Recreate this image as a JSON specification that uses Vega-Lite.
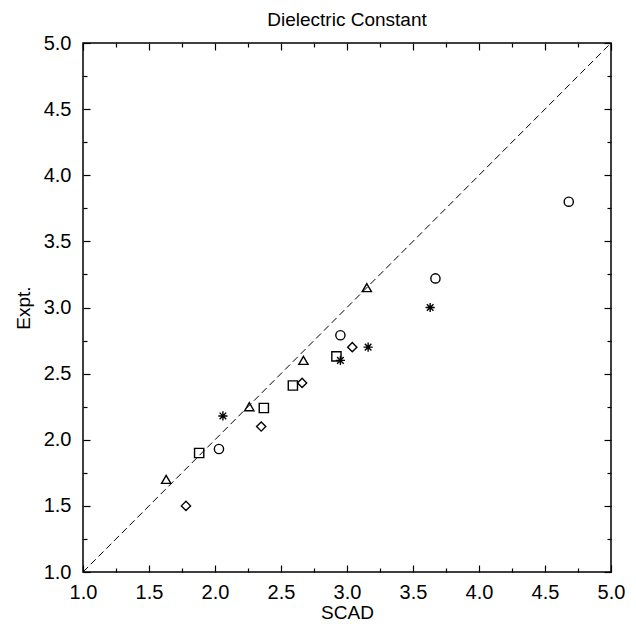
{
  "$schema": "https://vega.github.io/schema/vega-lite/v6.json",
  "width": 528,
  "height": 529,
  "autosize": "none",
  "padding": {"left": 83, "top": 43, "right": 25, "bottom": 52},
  "title": {"text": "Dielectric Constant", "fontSize": 19, "font": "Liberation Sans", "fontWeight": "normal", "color": "black", "offset": 3},
  "config": {
    "view": {"stroke": "black", "strokeWidth": 1.5},
    "axis": {
      "grid": false,
      "domain": false,
      "tickColor": "black",
      "tickWidth": 1.2,
      "labelFont": "Liberation Sans",
      "labelFontSize": 20,
      "labelColor": "black",
      "titleFont": "Liberation Sans",
      "titleFontSize": 19,
      "titleFontWeight": "normal",
      "titleColor": "black",
      "labelOverlap": false,
      "labelFlush": false
    }
  },
  "layer": [
    {
      "data": {"values": [{"x": 1, "y": 1}, {"x": 5, "y": 5}]},
      "mark": {"type": "line", "color": "black", "strokeWidth": 1, "strokeDash": [7, 4]},
      "encoding": {
        "x": {
          "field": "x", "type": "quantitative",
          "scale": {"domain": [1, 5], "nice": false, "zero": false},
          "axis": {
            "orient": "bottom", "title": "SCAD", "titlePadding": -2,
            "values": [1, 1.25, 1.5, 1.75, 2, 2.25, 2.5, 2.75, 3, 3.25, 3.5, 3.75, 4, 4.25, 4.5, 4.75, 5],
            "labelExpr": "datum.value % 0.5 === 0 ? format(datum.value, '.1f') : ''",
            "tickSize": {"condition": {"test": "datum.value % 0.5 === 0", "value": -7}, "value": -4},
            "labelPadding": 17
          }
        },
        "y": {
          "field": "y", "type": "quantitative",
          "scale": {"domain": [1, 5], "nice": false, "zero": false},
          "axis": {
            "orient": "left", "title": "Expt.", "titlePadding": 10,
            "values": [1, 1.25, 1.5, 1.75, 2, 2.25, 2.5, 2.75, 3, 3.25, 3.5, 3.75, 4, 4.25, 4.5, 4.75, 5],
            "labelExpr": "datum.value % 0.5 === 0 ? format(datum.value, '.1f') : ''",
            "tickSize": {"condition": {"test": "datum.value % 0.5 === 0", "value": -7}, "value": -4},
            "labelPadding": 19
          }
        }
      }
    },
    {
      "data": {
        "values": [
          {"scad": 1.63, "expt": 1.70, "set": "Set 1"},
          {"scad": 2.26, "expt": 2.25, "set": "Set 1"},
          {"scad": 2.67, "expt": 2.60, "set": "Set 1"},
          {"scad": 3.15, "expt": 3.15, "set": "Set 1"},
          {"scad": 1.88, "expt": 1.90, "set": "Set 2"},
          {"scad": 2.37, "expt": 2.24, "set": "Set 2"},
          {"scad": 2.59, "expt": 2.41, "set": "Set 2"},
          {"scad": 2.92, "expt": 2.63, "set": "Set 2"},
          {"scad": 1.78, "expt": 1.50, "set": "Set 3"},
          {"scad": 2.35, "expt": 2.10, "set": "Set 3"},
          {"scad": 2.66, "expt": 2.43, "set": "Set 3"},
          {"scad": 3.04, "expt": 2.70, "set": "Set 3"},
          {"scad": 2.03, "expt": 1.93, "set": "Set 4"},
          {"scad": 2.95, "expt": 2.79, "set": "Set 4"},
          {"scad": 3.67, "expt": 3.22, "set": "Set 4"},
          {"scad": 4.68, "expt": 3.80, "set": "Set 4"},
          {"scad": 2.06, "expt": 2.18, "set": "Set 5"},
          {"scad": 2.95, "expt": 2.60, "set": "Set 5"},
          {"scad": 3.16, "expt": 2.70, "set": "Set 5"},
          {"scad": 3.63, "expt": 3.00, "set": "Set 5"}
        ]
      },
      "mark": {"type": "point", "filled": false, "color": "black", "strokeWidth": 1.4, "size": 85, "opacity": 1},
      "encoding": {
        "x": {
          "field": "scad", "type": "quantitative",
          "axis": {
            "orient": "top", "title": null, "labels": false,
            "values": [1, 1.25, 1.5, 1.75, 2, 2.25, 2.5, 2.75, 3, 3.25, 3.5, 3.75, 4, 4.25, 4.5, 4.75, 5],
            "tickSize": {"condition": {"test": "datum.value % 0.5 === 0", "value": -7}, "value": -4}
          }
        },
        "y": {
          "field": "expt", "type": "quantitative",
          "axis": {
            "orient": "right", "title": null, "labels": false,
            "values": [1, 1.25, 1.5, 1.75, 2, 2.25, 2.5, 2.75, 3, 3.25, 3.5, 3.75, 4, 4.25, 4.5, 4.75, 5],
            "tickSize": {"condition": {"test": "datum.value % 0.5 === 0", "value": -7}, "value": -4}
          }
        },
        "shape": {
          "field": "set", "type": "nominal", "legend": null,
          "scale": {
            "domain": ["Set 1", "Set 2", "Set 3", "Set 4", "Set 5"],
            "range": ["triangle-up", "square", "diamond", "circle", "M-1,0L1,0M0,-1L0,1M-0.72,-0.72L0.72,0.72M-0.72,0.72L0.72,-0.72"]
          }
        }
      }
    }
  ],
  "resolve": {"axis": {"x": "independent", "y": "independent"}}
}
